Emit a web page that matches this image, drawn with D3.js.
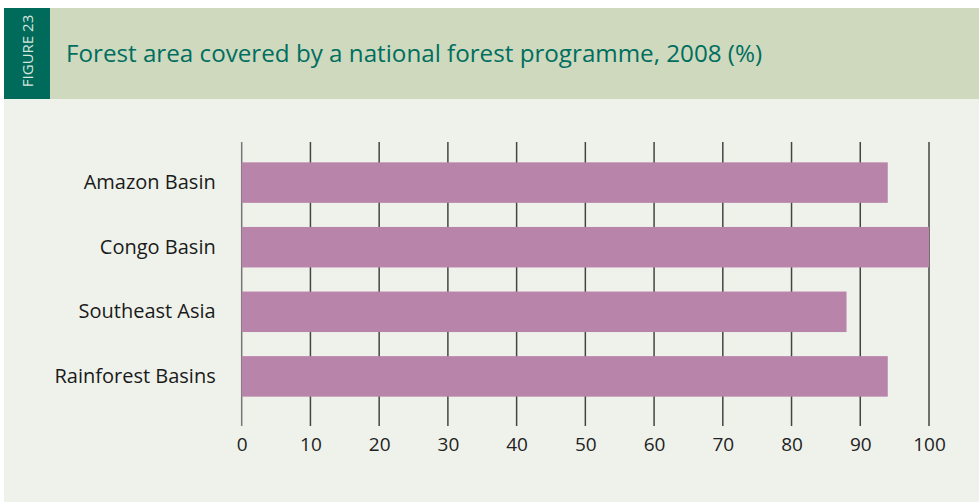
<!DOCTYPE html>
<html>
<head>
<meta charset="utf-8">
<script src="https://cdn.jsdelivr.net/npm/d3@7/dist/d3.min.js"></script>
<style>
  html, body { margin: 0; padding: 0; background: #ffffff; }
  svg { display: block; }
  text { font-family: "Open Sans", "Noto Sans", sans-serif; }
</style>
</head>
<body>
<svg id="chart" width="979" height="502"></svg>
<script>
// Forest area covered by a national forest programme, 2008 (%)
const categories = ["Amazon Basin", "Congo Basin", "Southeast Asia", "Rainforest Basins"];
const values = [94, 100, 88, 94];
const tickValues = [0, 10, 20, 30, 40, 50, 60, 70, 80, 90, 100];

const figureLabel = "FIGURE 23";
const title = "Forest area covered by a national forest programme, 2008 (%)";

const svg = d3.select("#chart");

// panel backgrounds
svg.append("rect").attr("x", 4).attr("y", 99).attr("width", 975).attr("height", 403).attr("fill", "#eff2eb");
svg.append("rect").attr("x", 4).attr("y", 8).attr("width", 975).attr("height", 91).attr("fill", "#cfd9be");
svg.append("rect").attr("x", 4).attr("y", 8).attr("width", 46).attr("height", 91).attr("fill", "#006b5b");

svg.append("text")
  .attr("transform", "translate(33,51) rotate(-90)")
  .attr("text-anchor", "middle")
  .attr("font-size", 15)
  .attr("fill", "#d6e6dc")
  .text(figureLabel);

svg.append("text")
  .attr("x", 66).attr("y", 62)
  .attr("font-size", 24.2)
  .attr("fill", "#006e5e")
  .text(title);

// scales
const x = d3.scaleLinear().domain([0, 100]).range([241.7, 929]);
const y = d3.scaleBand().domain(categories).range([150.3, 408.7])
  .paddingInner(0.373).paddingOuter(0.1865);

const gridTop = 142, gridBottom = 426;

// vertical grid lines
svg.append("g").selectAll("line")
  .data(tickValues)
  .join("line")
  .attr("x1", d => x(d)).attr("x2", d => x(d))
  .attr("y1", gridTop).attr("y2", gridBottom)
  .attr("stroke", d => d === 0 ? "#777" : "#444")
  .attr("stroke-width", 1.5);

// bars
svg.append("g").selectAll("rect")
  .data(categories)
  .join("rect")
  .attr("x", x(0))
  .attr("y", d => y(d))
  .attr("width", (d, i) => x(values[i]) - x(0))
  .attr("height", y.bandwidth())
  .attr("fill", "#b884aa");

// x axis tick labels
const xAxis = d3.axisBottom(x).tickValues(tickValues).tickSize(0).tickPadding(0);
const gx = svg.append("g").attr("transform", `translate(0,${gridBottom + 11})`).call(xAxis);
gx.select(".domain").remove();
gx.selectAll("text")
  .attr("font-size", 19)
  .attr("font-family", "'Open Sans', 'Noto Sans', sans-serif")
  .attr("fill", "#222")
  .attr("dy", "0.71em");

// category labels
const yAxis = d3.axisLeft(y).tickSize(0).tickPadding(26);
const gy = svg.append("g").attr("transform", `translate(${x(0)},0)`).call(yAxis);
gy.select(".domain").remove();
gy.selectAll("text")
  .attr("font-size", 20)
  .attr("font-family", "'Open Sans', 'Noto Sans', sans-serif")
  .attr("fill", "#1a1a1a");
</script>
</body>
</html>
